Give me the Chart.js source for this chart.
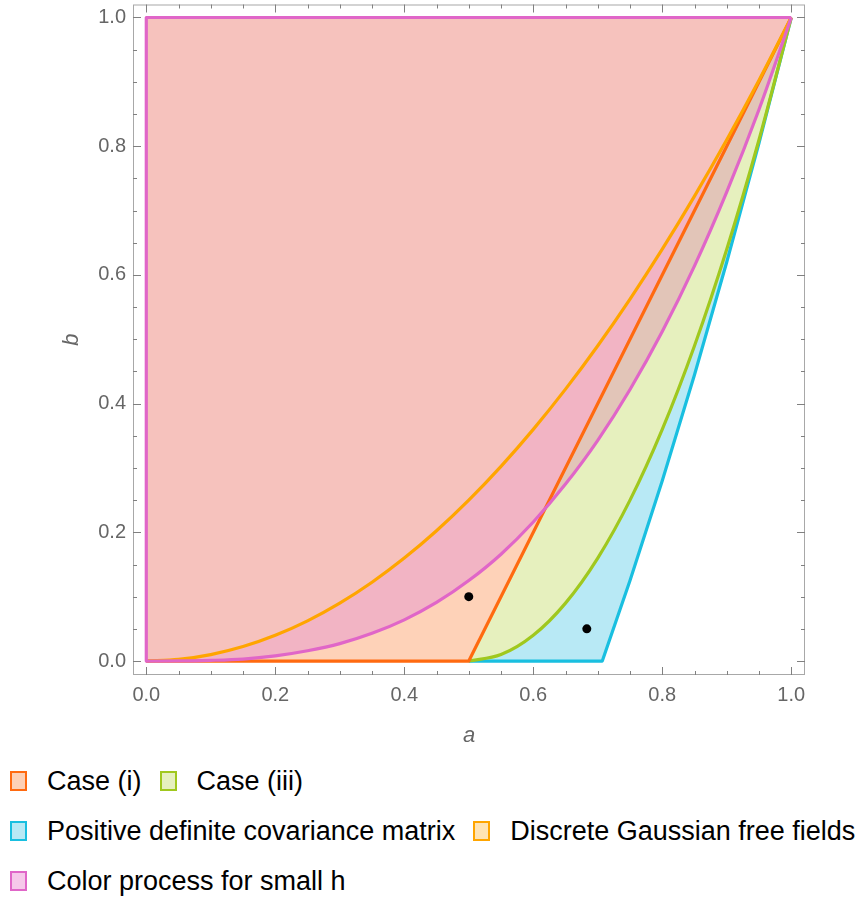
<!DOCTYPE html>
<html>
<head>
<meta charset="utf-8">
<script src="https://cdn.jsdelivr.net/npm/chart.js@4"></script>
<style>
  html, body { margin: 0; padding: 0; background: #fff; }
  .wrap { position: relative; width: 867px; height: 907px; }
  #plot { position: absolute; left: 0; top: 0; }
  .legend { position: absolute; left: 10px; top: 770px; width: 857px; white-space: nowrap; font-family: "Liberation Sans", Arial, sans-serif; font-size: 27px; color: #000; }
  .row { display: flex; align-items: center; height: 22px; margin-bottom: 28px; }
  .item { display: flex; align-items: center; margin-right: 18px; }
  .sw { width: 13px; height: 16px; border: 2px solid; margin-right: 20px; }
</style>
</head>
<body>
<div class="wrap">
  <canvas id="plot" width="867" height="760"></canvas>
  <div class="legend" id="legend"></div>
</div>
<script>
const $ = s => document.querySelector(s);

// values (a on x, b on y)
const gridA   = [0, 0.05, 0.1, 0.15, 0.2, 0.25, 0.3, 0.35, 0.4, 0.45, 0.5, 0.55, 0.6, 0.65, 0.7, 0.75, 0.8, 0.85, 0.9, 0.95, 1];
const gffB    = [0, 0.0025, 0.01, 0.0225, 0.04, 0.0625, 0.09, 0.1225, 0.16, 0.2025, 0.25, 0.3025, 0.36, 0.4225, 0.49, 0.5625, 0.64, 0.7225, 0.81, 0.9025, 1];
const colorB  = [0, 0.0001, 0.001, 0.003, 0.008, 0.016, 0.027, 0.043, 0.064, 0.091, 0.125, 0.166, 0.216, 0.275, 0.343, 0.422, 0.512, 0.614, 0.729, 0.857, 1];
const case1A  = [0, 0.5, 1];
const case1B  = [0, 0, 1];
const case3A  = [0, 0.5, 0.55, 0.6, 0.65, 0.7, 0.75, 0.8, 0.85, 0.9, 0.95, 1];
const case3B  = [0, 0, 0.01, 0.04, 0.09, 0.16, 0.25, 0.36, 0.49, 0.64, 0.81, 1];
const pdA     = [0, 0.5, 0.707, 0.75, 0.8, 0.85, 0.9, 0.95, 1];
const pdB     = [0, 0, 0, 0.125, 0.28, 0.445, 0.62, 0.805, 1];
// upper edge of the pink band: colour curve left of the crossing, case (i) line right of it
const bandA   = [0, 0.05, 0.1, 0.15, 0.2, 0.25, 0.3, 0.35, 0.4, 0.45, 0.5, 0.55, 0.6, 0.618, 0.7, 0.8, 0.9, 1];
const bandB   = [0, 0.0001, 0.001, 0.003, 0.008, 0.016, 0.027, 0.043, 0.064, 0.091, 0.125, 0.166, 0.216, 0.236, 0.4, 0.6, 0.8, 1];
const edgeA   = [1, 0, 0];
const edgeB   = [1, 1, 0];
const topA    = [0, 1];
const topB    = [1, 1];
const dotA    = [0.5, 0.683];
const dotB    = [0.1, 0.05];
const majorTicks = [0, 0.2, 0.4, 0.6, 0.8, 1];
const minorTicks = [0.05, 0.1, 0.15, 0.25, 0.3, 0.35, 0.45, 0.5, 0.55, 0.65, 0.7, 0.75, 0.85, 0.9, 0.95];

const legendItems = [
    ['Case (i)', '#ff6a10', '#fdd0b5'],
    ['Case (iii)', '#a0c81e', '#e6f0be'],
    null,
    ['Positive definite covariance matrix', '#19bfe0', '#b8e9f5'],
    ['Discrete Gaussian free fields', '#ffa500', '#ffe4b5'],
    null,
    ['Color process for small h', '#e066c8', '#f6c8ea']
];

const pts = (xs, ys) => xs.map((x, i) => ({ x, y: ys[i] }));

const fillSet = (xs, ys, color, order, smooth) => ({
    data: pts(xs, ys),
    borderWidth: 0,
    borderColor: 'transparent',
    backgroundColor: color,
    fill: { target: 0 },
    pointRadius: 0,
    cubicInterpolationMode: smooth ? 'monotone' : 'default',
    order
});

const lineSet = (xs, ys, color, order, smooth) => ({
    data: pts(xs, ys),
    borderWidth: 3.2,
    borderColor: color,
    fill: false,
    pointRadius: 0,
    borderJoinStyle: 'round',
    cubicInterpolationMode: smooth ? 'monotone' : 'default',
    order
});

const frameTicks = {
    id: 'frameTicks',
    afterDraw(chart) {
        const { ctx, chartArea: { left, right, top, bottom } } = chart;
        const sx = chart.scales.x, sy = chart.scales.y;
        ctx.save();
        ctx.strokeStyle = '#a8a8a8';
        ctx.lineWidth = 1;
        ctx.strokeRect(left + 0.5, top + 0.5, right - left - 1, bottom - top - 1);
        ctx.strokeStyle = '#808080';
        ctx.beginPath();
        const tick = (vals, len) => vals.forEach(v => {
            const px = Math.round(sx.getPixelForValue(v)) + 0.5;
            const py = Math.round(sy.getPixelForValue(v)) + 0.5;
            ctx.moveTo(px, bottom); ctx.lineTo(px, bottom - len);
            ctx.moveTo(px, top); ctx.lineTo(px, top + len);
            ctx.moveTo(left, py); ctx.lineTo(left + len, py);
            ctx.moveTo(right, py); ctx.lineTo(right - len, py);
        });
        tick(majorTicks, 8);
        tick(minorTicks, 4);
        ctx.stroke();
        ctx.restore();
    }
};

const axis = (min, max, title, size, pad) => ({
    type: 'linear',
    min,
    max,
    grid: { display: false, drawTicks: false },
    border: { display: false },
    afterBuildTicks: s => { s.ticks = majorTicks.map(v => ({ value: v })); },
    afterFit: s => {
        if (s.isHorizontal()) s.height = size; else s.width = size;
        s.paddingTop = s.paddingBottom = s.paddingLeft = s.paddingRight = 0;
    },
    ticks: {
        color: '#666',
        font: { size: 20, family: 'Liberation Sans' },
        padding: pad,
        callback: v => Number(v).toFixed(1)
    },
    title: {
        display: true,
        text: title,
        color: '#666',
        font: { size: 22, family: 'Liberation Sans', style: 'italic' },
        padding: title === 'a' ? { top: 0, bottom: 11 } : { top: 59, bottom: 0 }
    }
});

new Chart($('#plot'), {
    type: 'line',
    data: {
        datasets: [
            { data: pts(topA, topB), borderWidth: 0, borderColor: 'transparent', pointRadius: 0, fill: false, order: 100 },
            fillSet(pdA, pdB, '#b8e9f5', 90, false),
            fillSet(case3A, case3B, '#e6f0be', 80, true),
            fillSet(gridA, colorB, '#e2c5b8', 70, true),
            fillSet(case1A, case1B, '#fed2b8', 60, false),
            fillSet(bandA, bandB, '#f2b4c4', 50, false),
            fillSet(gridA, gffB, '#f6c2bd', 40, true),
            lineSet(pdA.slice(1), pdB.slice(1), '#19bfe0', 30, false),
            lineSet(case3A.slice(1), case3B.slice(1), '#a0c81e', 29, true),
            lineSet(case1A, case1B, '#ff6a10', 28, false),
            lineSet(gridA, gffB, '#ffa500', 27, true),
            lineSet(gridA, colorB, '#e066c8', 26, true),
            lineSet(edgeA, edgeB, '#e066c8', 25, false),
            {
                type: 'scatter',
                data: pts(dotA, dotB),
                pointRadius: 4.5,
                pointBackgroundColor: '#000',
                pointBorderWidth: 0,
                showLine: false,
                order: 1
            }
        ]
    },
    options: {
        responsive: false,
        animation: false,
        layout: { padding: { left: 0, right: 62, top: 3, bottom: 0 } },
        plugins: {
            legend: { display: false },
            tooltip: { enabled: false },
            filler: { drawTime: 'beforeDatasetsDraw' }
        },
        scales: {
            x: axis(-0.0206, 1.0213, 'a', 85, 8),
            y: axis(-0.0217, 1.0202, 'b', 133, 7)
        }
    },
    plugins: [frameTicks]
});

$('#legend').innerHTML = legendItems.reduce((rows, it) => {
    if (!it) rows.push([]); else rows[rows.length - 1].push(it);
    return rows;
}, [[]]).map(row => `<div class="row">${row.map(([t, b, f]) =>
    `<div class="item"><span class="sw" style="border-color:${b};background:${f}"></span><span>${t}</span></div>`).join('')}</div>`).join('');
</script>
</body>
</html>
